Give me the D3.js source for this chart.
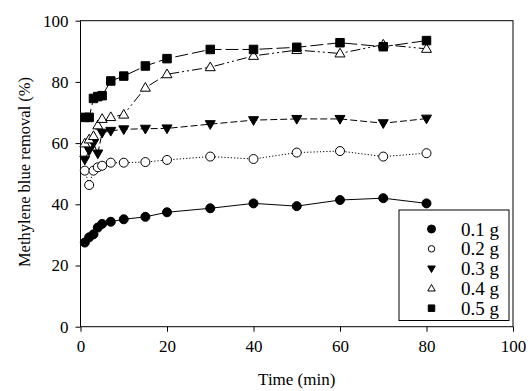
<!DOCTYPE html>
<html><head><meta charset="utf-8">
<script src="https://cdn.jsdelivr.net/npm/d3@7"></script>
<style>body{margin:0;background:#fff}svg{display:block}</style>
</head><body>
<svg id="c" width="530" height="391"></svg>
<script>
const times = [1,2,3,4,5,7,10,15,20,30,40,50,60,70,80];
const s01 = [27.5,29.2,30.2,32.4,33.6,34.3,35.1,35.9,37.4,38.7,40.3,39.4,41.4,42.0,40.3];
const s02 = [51.0,46.3,51.0,52.1,52.6,53.6,53.6,53.8,54.5,55.6,54.8,56.9,57.4,55.6,56.7];
const s03 = [54.6,57.6,60.0,56.6,63.4,64.0,64.5,64.7,64.8,66.2,67.5,67.9,67.9,66.5,68.0];
const s04 = [59.9,61.2,62.3,65.8,67.9,68.5,69.3,78.1,82.5,84.8,88.5,90.4,89.3,92.2,90.8];
const s05 = [68.4,68.4,74.6,75.2,75.5,80.3,81.9,85.2,87.6,90.6,90.6,91.3,92.8,91.5,93.5];
const seriesNames = ["0.1 g","0.2 g","0.3 g","0.4 g","0.5 g"];
const xTicks = [0,20,40,60,80,100];
const yTicks = [0,20,40,60,80,100];

const series = [
  {name:seriesNames[0], vals:s01, sym:"circle", fill:"#000", dash:null},
  {name:seriesNames[1], vals:s02, sym:"circle", fill:"#fff", dash:"1.2,2"},
  {name:seriesNames[2], vals:s03, sym:"down", fill:"#000", dash:"7,3"},
  {name:seriesNames[3], vals:s04, sym:"up", fill:"#fff", dash:"10,3,2,3,2,3"},
  {name:seriesNames[4], vals:s05, sym:"square", fill:"#000", dash:"13,4"}
];
const FONT = "'Liberation Serif', 'Times New Roman', serif";

const svg = d3.select("#c");
const L=80.5, R=513, T=20.7, B=326.7;
const x = d3.scaleLinear().domain([0,100]).range([L,R]);
const y = d3.scaleLinear().domain([0,100]).range([B,T]);

svg.append("rect").attr("x",L).attr("y",T).attr("width",R-L).attr("height",B-T)
  .attr("fill","none").attr("stroke","#000").attr("stroke-width",1);

const xa = svg.append("g").attr("transform",`translate(0,${B})`)
  .call(d3.axisBottom(x).tickValues(xTicks).tickSize(5).tickPadding(8).tickFormat(d3.format("d")));
xa.attr("font-family",null).attr("font-size",null);
xa.select(".domain").remove();
xa.selectAll("text").style("font-family",FONT).style("font-size","17px");
const ya = svg.append("g").attr("transform",`translate(${L},0)`)
  .call(d3.axisLeft(y).tickValues(yTicks).tickSize(5).tickPadding(7).tickFormat(d3.format("d")));
ya.attr("font-family",null).attr("font-size",null);
ya.select(".domain").remove();
ya.selectAll("text").style("font-family",FONT).style("font-size","17px");

svg.append("text").attr("x",(L+R)/2).attr("y",385).attr("text-anchor","middle")
  .style("font-family",FONT).style("font-size","17px").text("Time (min)");
svg.append("text").attr("transform","translate(30,172) rotate(-90)").attr("text-anchor","middle")
  .style("font-family",FONT).style("font-size","16.5px").text("Methylene blue removal (%)");

function symPath(sym, s){
  if(sym==="circle") return d3.symbol(d3.symbolCircle, s*s*Math.PI/4)();
  if(sym==="square") return `M${-s/2},${-s/2}h${s}v${s}h${-s}Z`;
  const h = s*0.87;
  if(sym==="up") return `M0,${-h*0.6}L${s/2},${h*0.4}L${-s/2},${h*0.4}Z`;
  if(sym==="down") return `M0,${h*0.6}L${s/2},${-h*0.4}L${-s/2},${-h*0.4}Z`;
}

const line = d3.line().x(d=>x(d[0])).y(d=>y(d[1]));
series.forEach(se=>{
  const pts = times.map((t,i)=>[t,se.vals[i]]);
  svg.append("path").attr("d",line(pts)).attr("fill","none").attr("stroke","#000")
    .attr("stroke-width",1).attr("stroke-dasharray",se.dash);
});
series.forEach(se=>{
  const pts = times.map((t,i)=>[t,se.vals[i]]);
  const size = se.sym==="square"?8.5:(se.sym==="circle"?9:10);
  svg.append("g").selectAll("path").data(pts).join("path")
    .attr("transform",d=>`translate(${x(d[0])},${y(d[1])})`)
    .attr("d",symPath(se.sym,size)).attr("fill",se.fill).attr("stroke","#000").attr("stroke-width",1);
});

const lg = svg.append("g");
lg.append("rect").attr("x",399).attr("y",210).attr("width",110).attr("height",110.5)
  .attr("fill","#fff").attr("stroke","#000").attr("stroke-width",1);
series.forEach((se,i)=>{
  const cy = 229 + i*19.8;
  const size = se.sym==="square"?6.5:(se.sym==="circle"?(se.fill==="#000"?8:6.5):7.5);
  lg.append("path").attr("transform",`translate(431.5,${cy})`).attr("d",symPath(se.sym,size))
    .attr("fill",se.fill).attr("stroke","#000").attr("stroke-width",1);
  lg.append("text").attr("x",461).attr("y",cy+6.5).style("font-family",FONT).style("font-size","19px").text(se.name);
});
</script>
</body></html>
